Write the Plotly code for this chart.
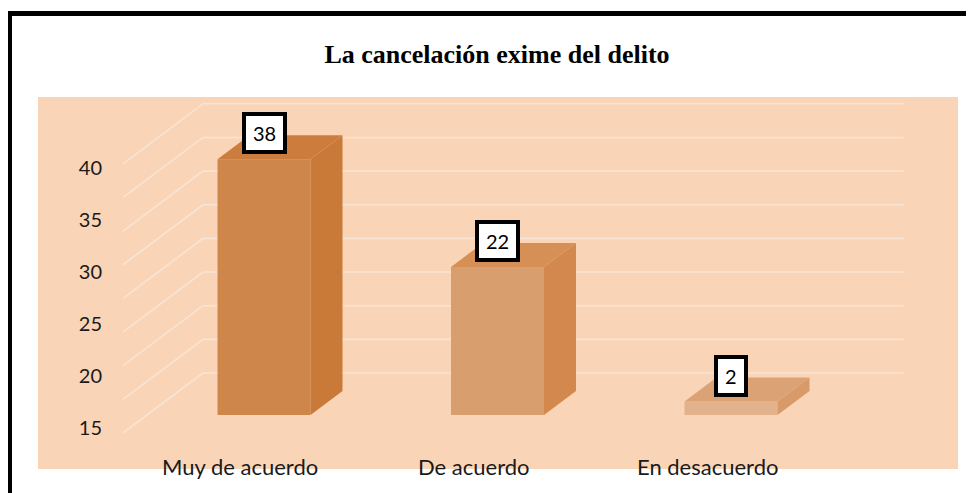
import plotly.graph_objects as go

# ---------------- data ----------------
categories = ["Muy de acuerdo", "De acuerdo", "En desacuerdo"]
values = [38, 22, 2]
grid_values = [0, 5, 10, 15, 20, 25, 30, 35, 40]
ytick_labels = [15, 20, 25, 30, 35, 40]
title_text = "La cancelación exime del delito"

# ---------------- styles ----------------
front_colors = ["#CF864A", "#D89E6E", "#E2B28D"]
side_colors = ["#C97A38", "#D3894D", "#D89A68"]
top_colors = ["#CC7D3E", "#D68F55", "#DBA375"]
bg_color = "#FAD4B6"
grid_color = "#F8E4D4"
text_color = "#1a1a1a"

OFF = 8  # page body margin
W_FIG, H_FIG = 974 - OFF, 493 - OFF
# plot area in reference pixel coordinates
PL, PR, PT, PB = 38, 958, 97, 469
L, T = PL - OFF, PT - OFF
R, B = W_FIG - (PR - OFF), H_FIG - (PB - OFF)
PW, PH = PR - PL, PB - PT

# pixel geometry of the pseudo-3D projection (reference pixels)
PX_PER_CAT = 233.5
FIRST_CENTER_PX = 264
PX_PER_UNIT = 6.73
BASE_PX = 415
bar_w = 93 / PX_PER_CAT
depth_dx = 32 / PX_PER_CAT
depth_dy = 24 / PX_PER_UNIT
grid_back_off = (BASE_PX - 373) / PX_PER_UNIT
grid_front_off = (BASE_PX - 433) / PX_PER_UNIT
grid_x_front = (123 - FIRST_CENTER_PX) / PX_PER_CAT
grid_x_back = (203 - FIRST_CENTER_PX) / PX_PER_CAT
grid_x_right = (904 - FIRST_CENTER_PX) / PX_PER_CAT

x_range = [(PL - FIRST_CENTER_PX) / PX_PER_CAT, (PR - FIRST_CENTER_PX) / PX_PER_CAT]
y_range = [-(PB - BASE_PX) / PX_PER_UNIT, (BASE_PX - PT) / PX_PER_UNIT]
lab_ppu = 52 / 5
y2_range = [15 - (PB - 428) / lab_ppu, 40 + (168 - PT) / lab_ppu]

positions = list(range(len(categories)))


def px_x(p):
    return (p - PL) / PW


def px_y(p):
    return (PB - p) / PH


fig = go.Figure()

# gridlines (back wall + left wall diagonals)
gx, gy = [], []
for g in grid_values:
    gx += [grid_x_front, grid_x_back, grid_x_right, None]
    gy += [g + grid_front_off, g + grid_back_off, g + grid_back_off, None]
fig.add_trace(go.Scatter(x=gx, y=gy, mode="lines",
                         line=dict(color=grid_color, width=1.6),
                         hoverinfo="skip", showlegend=False))

# bars: front, side and top faces
for i, v in enumerate(values):
    xl, xr = positions[i] - bar_w / 2, positions[i] + bar_w / 2
    fig.add_trace(go.Scatter(
        x=[xl, xr, xr, xl, xl], y=[0, 0, v, v, 0],
        fill="toself", fillcolor=front_colors[i], mode="lines",
        line=dict(width=0, color=front_colors[i]),
        hoverinfo="skip", showlegend=False))
    fig.add_trace(go.Scatter(
        x=[xr, xr + depth_dx, xr + depth_dx, xr, xr],
        y=[0, depth_dy, v + depth_dy, v, 0],
        fill="toself", fillcolor=side_colors[i], mode="lines",
        line=dict(width=0, color=side_colors[i]),
        hoverinfo="skip", showlegend=False))
    fig.add_trace(go.Scatter(
        x=[xl, xl + depth_dx, xr + depth_dx, xr, xl],
        y=[v, v + depth_dy, v + depth_dy, v, v],
        fill="toself", fillcolor=top_colors[i], mode="lines",
        line=dict(width=0, color=top_colors[i]),
        hoverinfo="skip", showlegend=False))

# invisible trace to carry the tick-label axis
fig.add_trace(go.Scatter(x=[positions[0]] * len(ytick_labels), y=ytick_labels,
                         yaxis="y2", mode="markers", marker=dict(opacity=0),
                         hoverinfo="skip", showlegend=False))

# data labels
for i, v in enumerate(values):
    fig.add_annotation(x=positions[i], y=v, xref="x", yref="y", text=str(v),
                       showarrow=False, yshift=26, yanchor="middle",
                       font=dict(family="Lato", size=20, color="black"),
                       bgcolor="white", bordercolor="black", borderwidth=4,
                       borderpad=7, height=20)

# category labels
for i, c in enumerate(categories):
    fig.add_annotation(x=positions[i], y=px_y(466), xref="x", yref="paper",
                       text=c, showarrow=False, xshift=-24, yanchor="middle",
                       font=dict(family="Lato", size=22, color=text_color))

# outer black frame (top and left visible)
fig.add_shape(type="rect", xref="paper", yref="paper",
              x0=px_x(9.5), x1=px_x(1020), y0=px_y(13.5), y1=px_y(540),
              line=dict(color="black", width=5), fillcolor="rgba(0,0,0,0)", layer="above")

fig.update_layout(
    width=W_FIG, height=H_FIG,
    margin=dict(l=L, r=R, t=T, b=B, pad=0),
    paper_bgcolor="white", plot_bgcolor=bg_color,
    title=dict(text="<b>" + title_text + "</b>", x=(497 - OFF) / W_FIG, xanchor="center",
               y=1 - (54 - OFF) / H_FIG, yanchor="middle",
               font=dict(family="Liberation Serif", size=26, color="black")),
    xaxis=dict(range=x_range, visible=False, fixedrange=True),
    yaxis=dict(range=y_range, visible=False, fixedrange=True),
    yaxis2=dict(range=y2_range, overlaying="y", anchor="free",
                position=px_x(102), side="left", showgrid=False, zeroline=False,
                showline=False, ticks="", tickvals=ytick_labels,
                ticktext=[str(t) for t in ytick_labels],
                tickfont=dict(family="Lato", size=20, color=text_color)),
    showlegend=False,
)

fig.write_html("out.html")
